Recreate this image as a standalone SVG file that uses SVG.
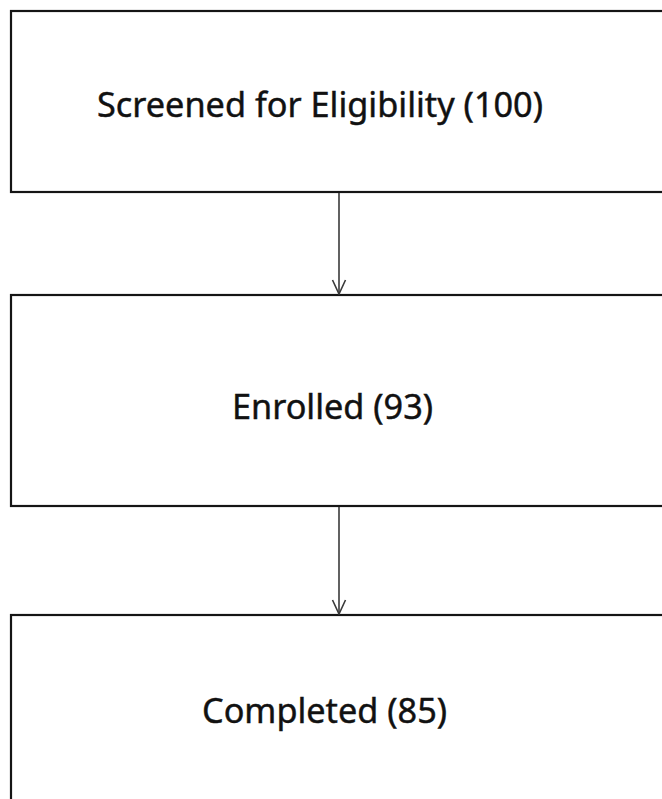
<svg xmlns="http://www.w3.org/2000/svg" width="662" height="799" viewBox="0 0 662 799">
  <style>
    .box { fill: #ffffff; stroke: #151515; stroke-width: 2.2; }
    .lbl { font-family: "Noto Sans", "Open Sans", "Liberation Sans", sans-serif; font-size: 35px; fill: #111111; stroke: #111111; stroke-width: 0.45; }
    .conn { stroke: #3a3a3a; stroke-width: 1.6; fill: none; }
  </style>
  <defs>
    <marker id="arr" viewBox="0 0 16 16" refX="15" refY="8" markerWidth="16" markerHeight="16" markerUnits="userSpaceOnUse" orient="auto">
      <path d="M1,1.5 L15,8 L1,14.5" fill="none" stroke="#3a3a3a" stroke-width="1.6"/>
    </marker>
  </defs>
  <rect x="0" y="0" width="662" height="799" fill="#ffffff"/>
  <g id="node-screened">
    <rect class="box" x="11" y="11" width="700" height="181"/>
    <text class="lbl" x="97" y="117" textLength="446" lengthAdjust="spacingAndGlyphs">Screened for Eligibility (100)</text>
  </g>
  <g id="node-enrolled">
    <rect class="box" x="11" y="295" width="700" height="211"/>
    <text class="lbl" x="232" y="419" textLength="201" lengthAdjust="spacingAndGlyphs">Enrolled (93)</text>
  </g>
  <g id="node-completed">
    <rect class="box" x="11" y="615" width="700" height="250"/>
    <text class="lbl" x="202" y="723" textLength="245" lengthAdjust="spacingAndGlyphs">Completed (85)</text>
  </g>
  <g id="connectors">
    <line class="conn" x1="339" y1="193" x2="339" y2="294" marker-end="url(#arr)"/>
    <line class="conn" x1="339" y1="507" x2="339" y2="614" marker-end="url(#arr)"/>
  </g>
</svg>
